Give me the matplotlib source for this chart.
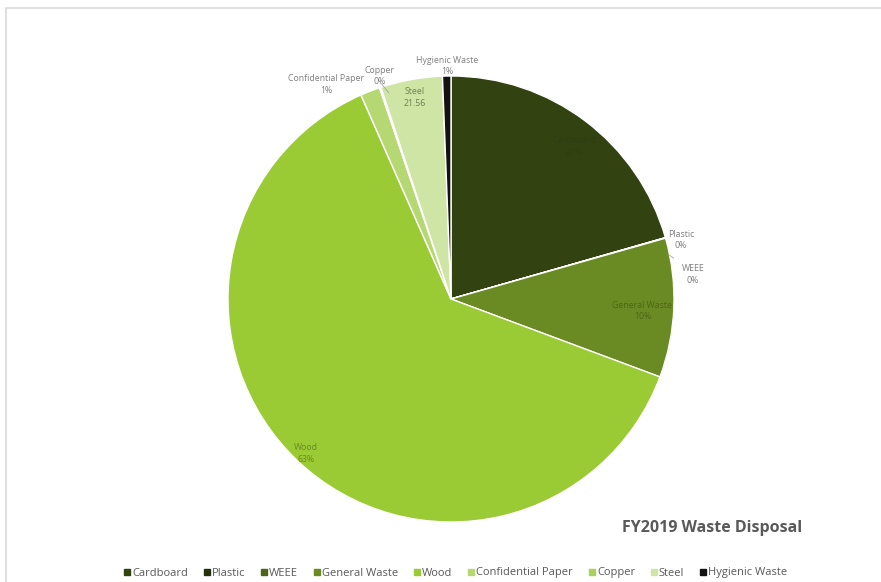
import matplotlib
matplotlib.use("Agg")
import matplotlib.pyplot as plt
import numpy as np
from matplotlib.patches import Rectangle
from matplotlib.lines import Line2D

categories = ["Cardboard", "Plastic", "WEEE", "General Waste", "Wood",
              "Confidential Paper", "Copper", "Steel", "Hygienic Waste"]
values = [101.0, 0.1, 0.1, 49.5, 308.0, 7.0, 0.5, 22.0, 3.0]
label_texts = ["Cardboard\n21%", "Plastic\n0%", "WEEE\n0%", "General Waste\n10%",
               "Wood\n63%", "Confidential Paper\n1%", "Copper\n0%", "Steel\n21.56",
               "Hygienic Waste\n1%"]
colors = ["#324211", "#26310c", "#4c6519", "#6a8a23", "#9aca34",
          "#b5d872", "#a9d15c", "#cfe5a5", "#121212"]

# label placement: (radius factor, angle offset deg); None -> fixed outside angle
label_pos = {
    "Cardboard": (0.88, -2.0),
    "Plastic": (1.065, None),
    "WEEE": (1.09, None),
    "General Waste": (0.86, -1.3),
    "Wood": (0.95, 0.0),
    "Confidential Paper": (1.115, None),
    "Copper": (1.05, None),
    "Steel": (0.92, 0.0),
    "Hygienic Waste": (1.045, None),
}
outside_angles = {"Plastic": 14.4, "WEEE": 5.7, "Confidential Paper": 120.2,
                  "Copper": 107.7, "Hygienic Waste": 91.0}
text_colors = {"Cardboard": "#2f3d12", "General Waste": "#4d6619", "Wood": "#6a8a23",
               "Steel": "#6f7f55"}

W, H = 881, 582
fig = plt.figure(figsize=(W / 100, H / 100), dpi=100)
fig.patch.set_facecolor("white")

# frame border
fig.add_artist(Rectangle((6 / W, -0.01), 1.0, (H - 8) / H + 0.01, transform=fig.transFigure,
                         fill=False, edgecolor="#d9d9d9", linewidth=1.2))

cx, cy, r = 451, 299, 223
ax = fig.add_axes([(cx - r) / W, (H - cy - r) / H, 2 * r / W, 2 * r / H])
wedges, _ = ax.pie(values, colors=colors, startangle=90, counterclock=False,
                   radius=1.0, wedgeprops=dict(edgecolor="white", linewidth=1.0))
ax.set_xlim(-1, 1)
ax.set_ylim(-1, 1)
ax.set_aspect("auto")
ax.axis("off")

for w, cat, txt in zip(wedges, categories, label_texts):
    rf, off = label_pos[cat]
    if off is None:
        ang = outside_angles[cat]
        col = "#7f7f7f"
    else:
        ang = (w.theta1 + w.theta2) / 2 + off
        col = text_colors[cat]
    x = rf * np.cos(np.radians(ang))
    y = rf * np.sin(np.radians(ang))
    ax.text(x, y, txt, ha="center", va="center", fontsize=6.3, color=col,
            family="Open Sans", linespacing=1.4)

# leader lines
def edge_pt(theta, rr=1.0):
    return rr * np.cos(np.radians(theta)), rr * np.sin(np.radians(theta))

for cat, a0, a1, r0, r1 in [("Copper", 107.9, 106.8, 1.015, 0.965),
                            ("WEEE", 11.3, 8.5, 1.0, 1.05)]:
    p0 = edge_pt(a0, r0)
    p1 = edge_pt(a1, r1)
    ax.plot([p0[0], p1[0]], [p0[1], p1[1]], color="#a6a6a6", lw=0.6)

fig.text(712 / W, 1 - 528 / H, "FY2019 Waste Disposal", ha="center", va="center",
         fontsize=11.5, fontweight="bold", color="#595959", family="Open Sans")

handles = [Line2D([], [], marker="s", linestyle="none", markersize=4,
                  markerfacecolor=c, markeredgecolor=c) for c in colors]
leg = fig.legend(handles, categories, loc="center", bbox_to_anchor=(455 / W, 1 - 573 / H),
                 ncol=9, frameon=False, fontsize=8, handletextpad=0.05,
                 columnspacing=1.3, handlelength=0.8)
for t in leg.get_texts():
    t.set_color("#595959")
    t.set_family("Open Sans")

fig.savefig("out.png", dpi=100, facecolor="white")
